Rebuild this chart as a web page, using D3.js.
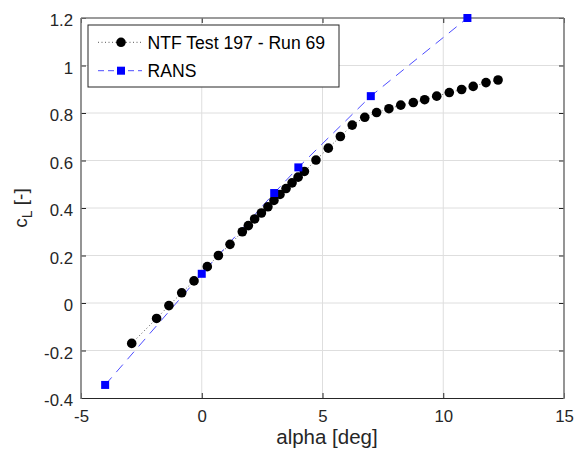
<!DOCTYPE html>
<html>
<head>
<meta charset="utf-8">
<script src="https://cdn.jsdelivr.net/npm/d3@7"></script>
<style>
  html, body { margin: 0; padding: 0; background: #fff; }
  svg { display: block; font-family: "Liberation Sans", Arial, sans-serif; }
</style>
</head>
<body>
<svg id="chart" width="579" height="455"></svg>
<script>
// NTF wind tunnel measurements (Test 197, Run 69)
const ntfAlpha = [-2.90, -1.87, -1.36, -0.83, -0.32, 0.23, 0.69, 1.17, 1.68, 1.93,
                  2.19, 2.47, 2.74, 2.99, 3.24, 3.49, 3.74, 3.99, 4.25, 4.73,
                  5.24, 5.74, 6.23, 6.75, 7.24, 7.75, 8.24, 8.76, 9.23, 9.73,
                  10.25, 10.76, 11.24, 11.77, 12.27];
const ntfCL = [-0.170, -0.065, -0.011, 0.043, 0.093, 0.153, 0.200, 0.247, 0.300, 0.326,
               0.354, 0.379, 0.405, 0.432, 0.457, 0.482, 0.506, 0.530, 0.554, 0.602,
               0.652, 0.701, 0.749, 0.782, 0.802, 0.818, 0.833, 0.844, 0.856, 0.871,
               0.886, 0.899, 0.912, 0.928, 0.939];

// RANS predictions
const ransAlpha = [-4, 0, 3, 4, 7, 11];
const ransCL = [-0.345, 0.123, 0.463, 0.571, 0.871, 1.2];

const xTicks = [-5, 0, 5, 10, 15];
const yTicks = [-0.4, -0.2, 0, 0.2, 0.4, 0.6, 0.8, 1, 1.2];
const seriesNames = ["NTF Test 197 - Run 69", "RANS"];

const svg = d3.select("#chart");
const plotLeft = 81, plotRight = 564, plotTop = 18, plotBottom = 398;
const textColor = "#262626";
const tickFont = "16.8px";

const x = d3.scaleLinear().domain([-5, 15]).range([plotLeft, plotRight]);
const y = d3.scaleLinear().domain([-0.4, 1.2]).range([plotBottom, plotTop]);

// grid
const grid = svg.append("g");
grid.selectAll(".gx").data(xTicks.slice(1, -1)).join("line")
  .attr("x1", d => x(d)).attr("x2", d => x(d))
  .attr("y1", plotTop).attr("y2", plotBottom)
  .attr("stroke", "#dedede").attr("stroke-width", 1);
grid.selectAll(".gy").data(yTicks.slice(1, -1)).join("line")
  .attr("x1", plotLeft).attr("x2", plotRight)
  .attr("y1", d => y(d)).attr("y2", d => y(d))
  .attr("stroke", "#dedede").attr("stroke-width", 1);

// axes (inward ticks on all four sides)
const fmt = d => String(+d.toFixed(1));
const axB = svg.append("g").attr("transform", `translate(0,${plotBottom})`)
  .call(d3.axisBottom(x).tickValues(xTicks).tickFormat(fmt).tickSizeInner(-5).tickSizeOuter(0).tickPadding(12.5));
const axL = svg.append("g").attr("transform", `translate(${plotLeft},0)`)
  .call(d3.axisLeft(y).tickValues(yTicks).tickFormat(fmt).tickSizeInner(-5).tickSizeOuter(0).tickPadding(8));
const axT = svg.append("g").attr("transform", `translate(0,${plotTop})`)
  .call(d3.axisTop(x).tickValues(xTicks).tickFormat("").tickSizeInner(-5).tickSizeOuter(0));
const axR = svg.append("g").attr("transform", `translate(${plotRight},0)`)
  .call(d3.axisRight(y).tickValues(yTicks).tickFormat("").tickSizeInner(-5).tickSizeOuter(0));

[axB, axL, axT, axR].forEach(a => {
  a.select(".domain").remove();
  a.selectAll(".tick line").attr("stroke", textColor);
  a.selectAll(".tick text").attr("fill", textColor)
    .style("font-family", '"Liberation Sans", Arial, sans-serif').style("font-size", tickFont);
});
axL.selectAll(".tick text").attr("dy", "0.45em");

// frame
svg.append("line").attr("x1", plotLeft).attr("x2", plotRight).attr("y1", plotBottom + 0.5).attr("y2", plotBottom + 0.5)
  .attr("stroke", textColor).attr("stroke-width", 1);
svg.append("line").attr("x1", plotLeft).attr("x2", plotLeft).attr("y1", plotTop).attr("y2", plotBottom + 1)
  .attr("stroke", "#7a7a7a").attr("stroke-width", 1.6);
svg.append("line").attr("x1", plotRight).attr("x2", plotRight).attr("y1", plotTop).attr("y2", plotBottom + 1)
  .attr("stroke", "#7a7a7a").attr("stroke-width", 1.6);
svg.append("line").attr("x1", plotLeft).attr("x2", plotRight).attr("y1", plotTop).attr("y2", plotTop)
  .attr("stroke", "#7a7a7a").attr("stroke-width", 1.6);

// axis labels
svg.append("text").attr("x", 327).attr("y", 444).attr("text-anchor", "middle")
  .attr("fill", textColor).style("font-size", "20.5px").text("alpha [deg]");
const yl = svg.append("text").attr("transform", `translate(27,${(plotTop + plotBottom) / 2}) rotate(-90)`)
  .attr("text-anchor", "middle").attr("fill", textColor).style("font-size", "19px");
yl.append("tspan").text("c");
yl.append("tspan").attr("dy", 5).style("font-size", "14px").text("L");
yl.append("tspan").attr("dy", -5).text(" [-]");

// series
const ntf = ntfAlpha.map((a, i) => [a, ntfCL[i]]);
const rans = ransAlpha.map((a, i) => [a, ransCL[i]]);
const line = d3.line().x(d => x(d[0])).y(d => y(d[1]));

svg.append("path").attr("d", line(ntf)).attr("fill", "none")
  .attr("stroke", "#555").attr("stroke-width", 1).attr("stroke-dasharray", "1,2.5");
svg.append("path").attr("d", line(rans)).attr("fill", "none")
  .attr("stroke", "#4d4dff").attr("stroke-width", 1).attr("stroke-dasharray", "10,7");

svg.append("g").selectAll("circle").data(ntf).join("circle")
  .attr("cx", d => x(d[0])).attr("cy", d => y(d[1])).attr("r", 4.8).attr("fill", "#000");
svg.append("g").selectAll("rect").data(rans).join("rect")
  .attr("x", d => x(d[0]) - 4).attr("y", d => y(d[1]) - 4)
  .attr("width", 8).attr("height", 8).attr("fill", "#0000ff");

// legend
const lg = svg.append("g");
lg.append("rect").attr("x", 88).attr("y", 25).attr("width", 251).attr("height", 62)
  .attr("fill", "#fff").attr("stroke", textColor).attr("stroke-width", 1);
const rows = [42.3, 70.7];
lg.append("line").attr("x1", 98).attr("x2", 142).attr("y1", rows[0]).attr("y2", rows[0])
  .attr("stroke", "#555").attr("stroke-dasharray", "1,2.5");
lg.append("circle").attr("cx", 121).attr("cy", rows[0]).attr("r", 4.8).attr("fill", "#000");
lg.append("line").attr("x1", 98).attr("x2", 142).attr("y1", rows[1]).attr("y2", rows[1])
  .attr("stroke", "#4d4dff").attr("stroke-dasharray", "6,4");
lg.append("rect").attr("x", 117).attr("y", rows[1] - 4).attr("width", 8).attr("height", 8).attr("fill", "#0000ff");
seriesNames.forEach((name, i) => {
  lg.append("text").attr("x", 147.5).attr("y", rows[i] + 6.3)
    .attr("fill", "#000").style("font-size", "17.6px").text(name);
});
</script>
</body>
</html>
